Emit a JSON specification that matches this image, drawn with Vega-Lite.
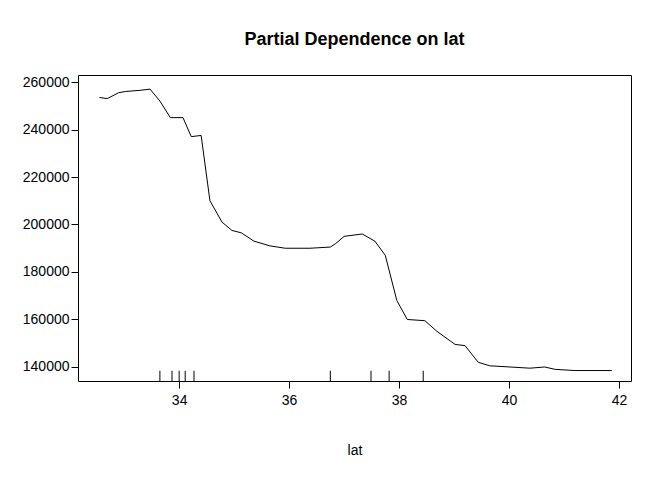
{
  "$schema": "https://vega.github.io/schema/vega-lite/v6.json",
  "autosize": {"type": "none"},
  "padding": {"left": 78, "top": 75, "right": 41, "bottom": 99},
  "width": 553,
  "height": 306,
  "background": "white",
  "config": {"font": "Liberation Sans", "view": {"stroke": "black", "strokeWidth": 1}},
  "title": {"text": "Partial Dependence on lat", "fontSize": 18, "fontWeight": "bold", "font": "Liberation Sans", "color": "black", "offset": 26, "anchor": "middle"},
  "datasets": {
    "pd": [
      {"lat": 32.55, "v": 253500}, {"lat": 32.69, "v": 253000}, {"lat": 32.9, "v": 255500},
      {"lat": 33.02, "v": 256000}, {"lat": 33.29, "v": 256500}, {"lat": 33.47, "v": 257000},
      {"lat": 33.65, "v": 252000}, {"lat": 33.84, "v": 245000}, {"lat": 34.07, "v": 245000},
      {"lat": 34.22, "v": 237000}, {"lat": 34.4, "v": 237500}, {"lat": 34.56, "v": 210000},
      {"lat": 34.78, "v": 201000}, {"lat": 34.96, "v": 197500}, {"lat": 35.13, "v": 196500},
      {"lat": 35.36, "v": 193000}, {"lat": 35.65, "v": 191000}, {"lat": 35.93, "v": 190000},
      {"lat": 36.38, "v": 190000}, {"lat": 36.75, "v": 190500}, {"lat": 36.85, "v": 192000},
      {"lat": 37.0, "v": 195000}, {"lat": 37.33, "v": 196000}, {"lat": 37.56, "v": 193000},
      {"lat": 37.75, "v": 187000}, {"lat": 37.96, "v": 168000}, {"lat": 38.15, "v": 160000},
      {"lat": 38.47, "v": 159500}, {"lat": 38.69, "v": 155000}, {"lat": 39.02, "v": 149500},
      {"lat": 39.2, "v": 149000}, {"lat": 39.44, "v": 142000}, {"lat": 39.65, "v": 140500},
      {"lat": 40.02, "v": 140000}, {"lat": 40.38, "v": 139500}, {"lat": 40.65, "v": 140000},
      {"lat": 40.84, "v": 139000}, {"lat": 41.2, "v": 138500}, {"lat": 41.87, "v": 138500}
    ],
    "rug": [
      {"lat": 33.65}, {"lat": 33.87}, {"lat": 34.0}, {"lat": 34.11}, {"lat": 34.27},
      {"lat": 36.75}, {"lat": 37.49}, {"lat": 37.82}, {"lat": 38.44}
    ]
  },
  "layer": [
    {
      "data": {"name": "pd"},
      "mark": {"type": "line", "color": "black", "strokeWidth": 1},
      "encoding": {
        "x": {"field": "lat", "type": "quantitative", "scale": {"domain": [32.16, 42.22], "nice": false, "zero": false},
          "axis": {"values": [34, 36, 38, 40, 42], "grid": false, "domain": false, "tickColor": "black", "tickSize": 7, "labelPadding": 5, "labelFontSize": 14, "labelColor": "black", "title": "lat", "titleFontSize": 14, "titleFontWeight": "normal", "titleColor": "black", "titlePadding": 36}},
        "y": {"field": "v", "type": "quantitative", "scale": {"domain": [134100, 262950], "nice": false, "zero": false},
          "axis": {"values": [140000, 160000, 180000, 200000, 220000, 240000, 260000], "format": "d", "grid": false, "domain": false, "tickColor": "black", "tickSize": 7, "labelPadding": 2, "labelFontSize": 14, "labelColor": "black", "title": null}}
      }
    },
    {
      "data": {"name": "rug"},
      "mark": {"type": "rule", "color": "black", "strokeWidth": 1},
      "encoding": {
        "x": {"field": "lat", "type": "quantitative"},
        "y": {"datum": 134100},
        "y2": {"datum": 138400}
      }
    }
  ]
}
